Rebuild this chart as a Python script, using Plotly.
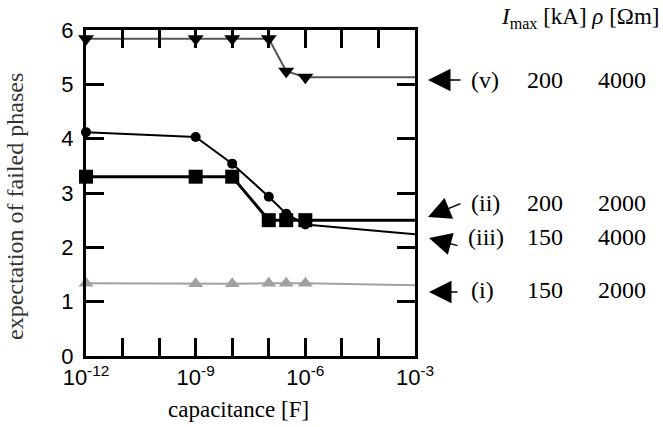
import plotly.graph_objects as go

# ---- data ----
capacitance = [1e-12, 1e-9, 1e-8, 1e-7, 3e-7, 1e-6, 1e-3]
series_v = [5.84, 5.84, 5.84, 5.84, 5.24, 5.13, 5.13]    # (v)   200 kA, 4000 Ohm m
series_iii = [4.12, 4.03, 3.54, 2.93, 2.62, 2.42, 2.24]  # (iii) 150 kA, 4000 Ohm m
series_ii = [3.30, 3.30, 3.30, 2.50, 2.50, 2.50, 2.50]   # (ii)  200 kA, 2000 Ohm m
series_i = [1.34, 1.33, 1.33, 1.34, 1.34, 1.34, 1.30]    # (i)   150 kA, 2000 Ohm m

labels = ["(v)", "(ii)", "(iii)", "(i)"]
imax = ["200", "200", "150", "150"]
rho = ["4000", "2000", "4000", "2000"]

x_tickvals = [10.0 ** e for e in range(-12, -2)]
x_ticktext = ["10<sup>-12</sup>", "", "", "10<sup>-9</sup>", "", "",
              "10<sup>-6</sup>", "", "", "10<sup>-3</sup>"]

# ---- geometry (pixels) ----
W, H = 663, 427
L, R, T, B = 86, 415, 30, 356


def px(x):
    return (x - L) / (R - L)


def py(y):
    return (B - y) / (B - T)


fig = go.Figure()

fig.add_trace(go.Scatter(
    x=capacitance, y=series_i, mode="lines+markers",
    line=dict(color="#a0a0a0", width=2),
    marker=dict(symbol="triangle-up", size=13, color="#a0a0a0"),
    cliponaxis=False, showlegend=False))
fig.add_trace(go.Scatter(
    x=capacitance, y=series_ii, mode="lines+markers",
    line=dict(color="black", width=3),
    marker=dict(symbol="square", size=14, color="black"),
    cliponaxis=False, showlegend=False))
fig.add_trace(go.Scatter(
    x=capacitance, y=series_iii, mode="lines+markers",
    line=dict(color="black", width=2),
    marker=dict(symbol="circle", size=10, color="black"),
    cliponaxis=False, showlegend=False))
fig.add_trace(go.Scatter(
    x=capacitance, y=series_v, mode="lines+markers",
    line=dict(color="#555555", width=2),
    marker=dict(symbol="triangle-down", size=14, color="black"),
    cliponaxis=False, showlegend=False))

serif = "Liberation Serif, Times New Roman, serif"
sans = "Liberation Sans, Arial, sans-serif"

annotations = []
# header
annotations.append(dict(
    x=px(661), y=py(18), xref="paper", yref="paper", xanchor="right", yanchor="middle",
    text="<i>I</i><sub>max</sub> [kA] <i>ρ</i> [Ωm]", showarrow=False,
    font=dict(family=serif, size=23, color="black")))

# arrows: tip (x, y) and tail offset in pixels
arrow_geom = [
    (428, 80, 34, 0),
    (428, 217, 34, -14),
    (429, 238, 30, 8),
    (429, 292, 30, 0),
]
row_y = [80, 203, 237, 290]
label_x = [469, 469, 466, 469]

for i in range(4):
    tx, ty, dx, dy = arrow_geom[i]
    annotations.append(dict(
        x=px(tx), y=py(ty), xref="paper", yref="paper", text="",
        showarrow=True, arrowhead=2, arrowsize=3, arrowwidth=1.5,
        arrowcolor="black", ax=dx, ay=dy, axref="pixel", ayref="pixel"))
    annotations.append(dict(
        x=px(label_x[i]), y=py(row_y[i]), xref="paper", yref="paper",
        xanchor="left", yanchor="middle", text=labels[i], showarrow=False,
        font=dict(family=serif, size=24, color="black")))
    annotations.append(dict(
        x=px(545), y=py(row_y[i]), xref="paper", yref="paper",
        xanchor="center", yanchor="middle", text=imax[i], showarrow=False,
        font=dict(family=serif, size=24, color="black")))
    annotations.append(dict(
        x=px(622), y=py(row_y[i]), xref="paper", yref="paper",
        xanchor="center", yanchor="middle", text=rho[i], showarrow=False,
        font=dict(family=serif, size=24, color="black")))

# axis titles
annotations.append(dict(
    x=px(238), y=py(409), xref="paper", yref="paper", xanchor="center", yanchor="middle",
    text="capacitance [F]", showarrow=False,
    font=dict(family=serif, size=23, color="black")))
annotations.append(dict(
    x=px(15), y=py(207), xref="paper", yref="paper", xanchor="center", yanchor="middle",
    text="expectation of failed phases", textangle=-90, showarrow=False,
    font=dict(family=serif, size=24, color="#333333")))

fig.update_layout(
    width=W, height=H,
    margin=dict(l=L, r=W - R, t=T, b=H - B),
    paper_bgcolor="white", plot_bgcolor="white",
    annotations=annotations,
    xaxis=dict(
        type="log", range=[-12, -3],
        tickvals=x_tickvals, ticktext=x_ticktext,
        ticks="inside", ticklen=18, tickwidth=2.5, tickcolor="black",
        showline=True, linewidth=3, linecolor="black", mirror="ticks",
        showgrid=False, zeroline=False,
        tickfont=dict(family=sans, size=22, color="black")),
    yaxis=dict(
        range=[0, 6], tickvals=[0, 1, 2, 3, 4, 5, 6],
        ticks="inside", ticklen=18, tickwidth=2.5, tickcolor="black",
        showline=True, linewidth=3, linecolor="black", mirror="ticks",
        showgrid=False, zeroline=False, ticklabelstandoff=5,
        tickfont=dict(family=sans, size=22, color="black")),
)

fig.write_html("out.html", config={"displayModeBar": False},
               post_script="document.body.style.margin='0';")
